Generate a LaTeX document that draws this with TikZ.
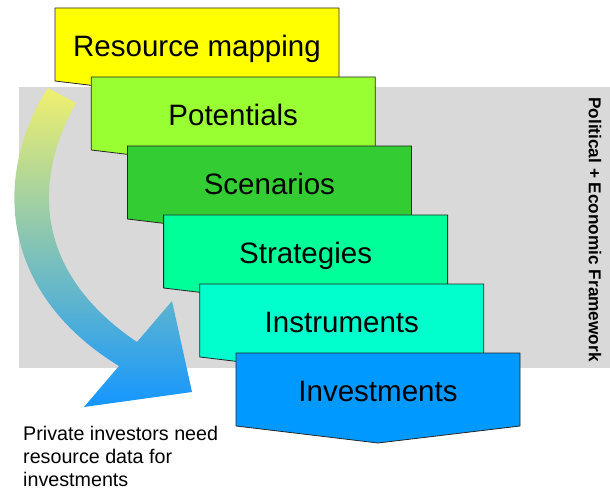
\documentclass[tikz,border=0pt]{standalone}
\usepackage{fontspec}
\setmainfont{Liberation Sans}
\definecolor{framegray}{RGB}{217,217,217}
\definecolor{cA}{RGB}{255,255,0}
\definecolor{cB}{RGB}{153,255,51}
\definecolor{cC}{RGB}{51,204,51}
\definecolor{cD}{RGB}{0,255,153}
\definecolor{cE}{RGB}{0,255,204}
\definecolor{cF}{RGB}{0,153,255}
\definecolor{arTop}{RGB}{240,240,110}
\definecolor{arMid}{RGB}{150,192,215}
\definecolor{arBot}{RGB}{20,150,255}
\begin{document}
\begin{tikzpicture}[x=1bp,y=-1bp,
  box/.style={draw=black!85,line width=0.8bp,line join=miter},
  lbl/.style={font=\fontsize{29.5bp}{34bp}\selectfont,anchor=base,inner sep=0},
  small/.style={font=\fontsize{19.7bp}{23bp}\selectfont,anchor=base west,inner sep=0}]
\useasboundingbox (0,0) rectangle (610,490);
\fill[framegray] (19,87) rectangle (610,368);
% curved arrow
\shade[top color=arTop, middle color=arMid, bottom color=arBot]
  (48,88) .. controls (-5,170) and (-5,290) .. (119,366)
  -- (84,407) -- (192,392) -- (172,301) -- (137,342)
  .. controls (30,270) and (35,175) .. (76,103) -- cycle;
% boxes
\foreach \i/\c in {0/cA,1/cB,2/cC,3/cD,4/cE,5/cF}{
  \pgfmathsetmacro\L{55+36.2*\i}
  \pgfmathsetmacro\T{8+69*\i}
  \draw[box,fill=\c] (\L,\T) -- ++(284,0) -- ++(0,73) -- ++(-142,17) -- ++(-142,-17) -- cycle;
}
\node[lbl] (t1) at (197,56.5) {Resource mapping};
\node[lbl] (t2) at (233.2,125.5) {Potentials};
\node[lbl] (t3) at (269.4,194.5) {Scenarios};
\node[lbl] (t4) at (305.6,263.5) {Strategies};
\node[lbl] (t5) at (341.8,332.5) {Instruments};
\node[lbl] (t6) at (378,401.5) {Investments};
\node[rotate=-90,inner sep=0,font=\bfseries\fontsize{17.2bp}{20bp}\selectfont] (pef) at (595,229.5) {Political + Economic Framework};
\node[small] (b1) at (23,440) {Private investors need};
\node[small] (b2) at (23,463) {resource data for};
\node[small] (b3) at (23,486) {investments};
\end{tikzpicture}
\end{document}
